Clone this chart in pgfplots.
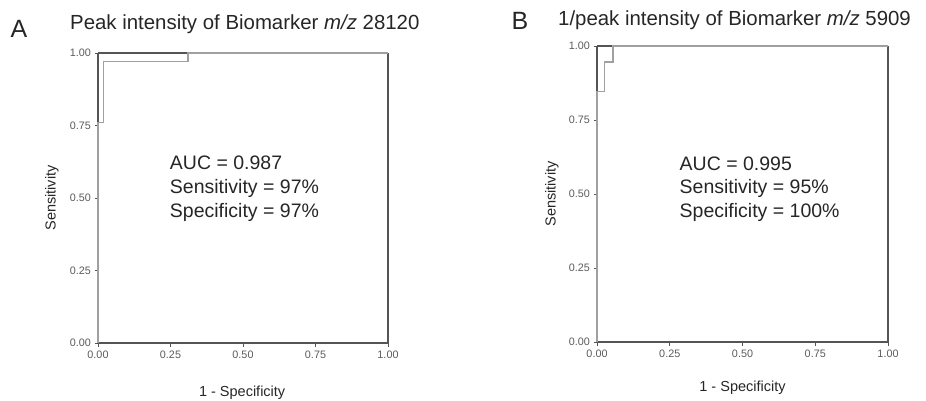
\documentclass[border=0pt]{standalone}
\usepackage{fontspec}
\setmainfont{Liberation Sans}
\usepackage{pgfplots}
\pgfplotsset{compat=1.18}
\definecolor{axgray}{HTML}{555555}
\definecolor{curvegray}{HTML}{A0A0A0}
\definecolor{labgray}{HTML}{5A5A5A}

\pgfplotsset{
  rocaxis/.style={
    scale only axis, anchor=south west,
    xmin=0, xmax=1, ymin=0, ymax=1,
    clip=false,
    axis x line*=bottom, axis y line*=left,
    axis line style={axgray, line width=1.5pt, -},
    xtick={0,0.25,0.5,0.75,1}, ytick={0,0.25,0.5,0.75,1},
    xticklabels={0.00,0.25,0.50,0.75,1.00},
    yticklabels={0.00,0.25,0.50,0.75,1.00},
    tick align=outside, major tick length=3.5pt,
    tick style={axgray, line width=1pt},
    ticklabel style={font=\fontsize{10.8}{12}\selectfont, text=labgray},
    xticklabel style={yshift=-1pt},
    label style={font=\fontsize{14.5}{16}\selectfont, text=black!85},
  },
}
\tikzset{
  frameline/.style={axgray, line width=1.5pt},
  curve/.style={curvegray, line width=1.2pt},
  ann/.style={anchor=base west, font=\fontsize{19.5}{22}\selectfont, text=black!85},
}

\begin{document}
\begin{tikzpicture}
\useasboundingbox (0,0) rectangle (926pt,400pt);

% panel A
\begin{axis}[rocaxis, width=290pt, height=290pt, at={(98pt,57pt)},
  xlabel={1 - Specificity}, ylabel={Sensitivity},
  xlabel style={at={(axis description cs:0.497,-0.172)}, anchor=center},
  ylabel style={at={(axis description cs:-0.159,0.5)}, anchor=center}]
\addplot[frameline] coordinates {(1,0) (1,1)};
\addplot[frameline] coordinates {(0,1) (0.31,1)};
\addplot[curve] coordinates {(0,0) (0,0.76) (0.02,0.76) (0.02,0.97) (0.31,0.97) (0.31,1) (1,1)};
\node[ann] at (axis cs:0.236,0.597) {AUC = 0.987};
\node[ann] at (axis cs:0.236,0.517) {Sensitivity = 97\%};
\node[ann] at (axis cs:0.236,0.434) {Specificity = 97\%};
\end{axis}

% panel B
\begin{axis}[rocaxis, width=291pt, height=296pt, at={(597pt,58pt)},
  xlabel={1 - Specificity}, ylabel={Sensitivity},
  xlabel style={at={(axis description cs:0.5,-0.155)}, anchor=center},
  ylabel style={at={(axis description cs:-0.155,0.5)}, anchor=center}]
\addplot[frameline] coordinates {(1,0) (1,1)};
\addplot[frameline] coordinates {(0,1) (0.055,1)};
\addplot[curve] coordinates {(0,0) (0,0.845) (0.025,0.845) (0.025,0.946) (0.055,0.946) (0.055,1) (1,1)};
\node[ann] at (axis cs:0.272,0.581) {AUC = 0.995};
\node[ann] at (axis cs:0.272,0.503) {Sensitivity = 95\%};
\node[ann] at (axis cs:0.272,0.422) {Specificity = 100\%};
\end{axis}

% panel letters and titles
\node[font=\fontsize{25}{28}\selectfont, text=black!85] at (19pt,371pt) {A};
\node[font=\fontsize{25}{28}\selectfont, text=black!85] at (520pt,379pt) {B};
\node[anchor=west, font=\fontsize{20.4}{24}\selectfont, text=black!85, inner sep=0pt]
  at (70pt,376pt) {Peak intensity of Biomarker \textit{m/z} 28120};
\node[anchor=west, font=\fontsize{20.4}{24}\selectfont, text=black!85, inner sep=0pt]
  at (558pt,380pt) {1/peak intensity of Biomarker \textit{m/z} 5909};
\end{tikzpicture}
\end{document}
